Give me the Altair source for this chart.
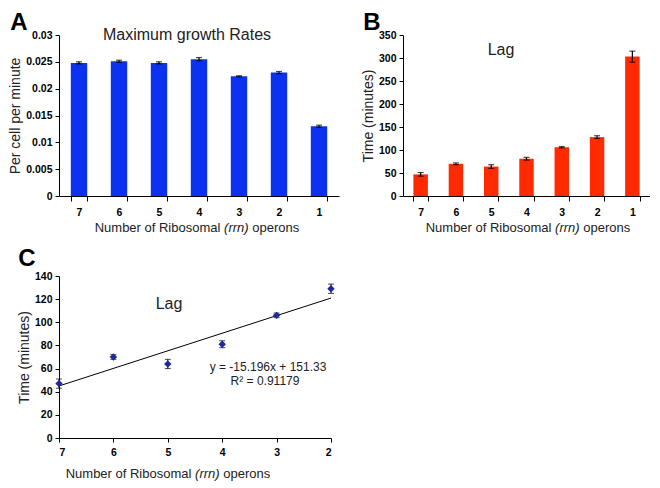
import altair as alt
import pandas as pd

# ---------------- data ----------------
operons = ["7", "6", "5", "4", "3", "2", "1"]
growth_rate = [0.0248, 0.0251, 0.0248, 0.0255, 0.0223, 0.0230, 0.0130]
growth_err = [0.0002, 0.0002, 0.0002, 0.0003, 0.0001, 0.0002, 0.0002]
lag_minutes = [47, 70, 64, 81, 106, 128, 303]
lag_err = [4, 2, 4, 3, 1.5, 3, 12]

c_operons = [7, 6, 5, 4, 3, 2]
c_lag = [47, 70, 64, 81, 106, 129]
c_err = [4, 2, 4, 3, 2, 4]

trend_slope = -15.196
trend_intercept = 151.33
eq_text = "y = -15.196x + 151.33"
r2_text = "R² = 0.91179"

growth_ticks = [0, 0.005, 0.01, 0.015, 0.02, 0.025, 0.03]
lag_ticks = [0, 50, 100, 150, 200, 250, 300, 350]
c_ticks = [0, 20, 40, 60, 80, 100, 120, 140]

FONT = "Liberation Sans"
TXT = "#222222"
BLUE = "#0a32f0"
RED = "#ff2a00"
DARKBLUE = "#1c2a9c"

axis_common = dict(
    grid=False, domainColor="black", tickColor="black", domainWidth=1,
    labelFont=FONT, labelFontWeight="bold", labelFontSize=10.5, labelColor="black",
    titleFont=FONT, titleFontWeight="normal", titleFontSize=14, titleColor=TXT,
    labelOverlap=False,
)


def text_at(s, x, y, size=14, weight="normal", style="normal", align="center"):
    return alt.Chart(pd.DataFrame({"t": [s]})).mark_text(
        align=align, baseline="middle", font=FONT, fontSize=size,
        fontWeight=weight, fontStyle=style, color=TXT,
    ).encode(x=alt.value(x), y=alt.value(y), text="t:N")


def x_title(cx, cy, size=13):
    p = cx + 23.4 * size / 13.0
    gap = 3.6 * size / 13.0
    w2 = 24.7 * size / 13.0
    return [
        text_at("Number of Ribosomal", p, cy, size, align="right"),
        text_at("(rrn)", p + gap + w2 / 2, cy, size, style="italic"),
        text_at("operons", p + 2 * gap + w2, cy, size, align="left"),
    ]


def letter(s, x, y):
    return alt.Chart(pd.DataFrame({"t": [s]})).mark_text(
        align="center", baseline="middle", font=FONT, fontSize=24,
        fontWeight="bold", color="black",
    ).encode(x=alt.value(x), y=alt.value(y), text="t:N")


def bar_panel(values, errs, color, domain, ticks, fmt, ytitle):
    df = pd.DataFrame({
        "op": operons, "v": values,
        "lo": [v - e for v, e in zip(values, errs)],
        "hi": [v + e for v, e in zip(values, errs)],
    })
    xaxis = alt.Axis(title=None, labelAngle=0, tickBand="extent",
                     labelPadding=6, tickSize=5, **axis_common)
    yaxis = alt.Axis(values=ticks, format=fmt, title=ytitle,
                     titlePadding=3, tickSize=4, labelPadding=3, **axis_common)
    xs = alt.Scale(paddingInner=0.59, paddingOuter=0.295)
    ys = alt.Scale(domain=domain, nice=False)
    x = alt.X("op:N", sort=operons, scale=xs, axis=xaxis)

    def Y(f):
        return alt.Y(f, scale=ys, axis=yaxis)

    base = alt.Chart(df)
    bars = base.mark_bar(color=color).encode(x=x, y=Y("v:Q"))
    rule = base.mark_rule(color="black", strokeWidth=1.2).encode(x=x, y=Y("lo:Q"), y2="hi:Q")
    cap1 = base.mark_tick(color="black", size=6, thickness=1.2, orient="horizontal").encode(x=x, y=Y("hi:Q"))
    cap2 = base.mark_tick(color="black", size=6, thickness=1.2, orient="horizontal").encode(x=x, y=Y("lo:Q"))
    return [bars, rule, cap1, cap2]


# ---------------- Panel A ----------------
WA, HA = 280, 161
panelA = alt.layer(
    *bar_panel(growth_rate, growth_err, BLUE, [0, 0.03], growth_ticks, "~g",
               "Per cell per minute"),
    text_at("Maximum growth Rates", 128, 0, 16),
    letter("A", -40, -12),
    *x_title(138, 193),
).properties(width=WA, height=HA)

# ---------------- Panel B ----------------
WB, HB = 247, 161
panelB = alt.layer(
    *bar_panel(lag_minutes, lag_err, RED, [0, 350], lag_ticks, "d",
               "Time (minutes)"),
    text_at("Lag", 98, 15, 16),
    letter("B", -31, -12),
    *x_title(125, 193),
).properties(width=WB, height=HB)

# ---------------- Panel C ----------------
WC, HC = 272, 162
dfC = pd.DataFrame({
    "n": c_operons, "v": c_lag,
    "lo": [v - e for v, e in zip(c_lag, c_err)],
    "hi": [v + e for v, e in zip(c_lag, c_err)],
})
trend_x = [c_operons[0], c_operons[-1]]
dfT = pd.DataFrame({"n": trend_x, "v": [trend_slope * t + trend_intercept for t in trend_x]})

xsC = alt.Scale(domain=[2, 7], reverse=True, nice=False)
ysC = alt.Scale(domain=[0, 140], nice=False)
xaxC = alt.Axis(values=c_operons, format="d", title=None,
                labelPadding=5, tickSize=4, **axis_common)
yaxC = alt.Axis(values=c_ticks, format="d", title="Time (minutes)",
                titlePadding=3, tickSize=4, labelPadding=3, **axis_common)


def XC(f):
    return alt.X(f, scale=xsC, axis=xaxC)


def YC(f):
    return alt.Y(f, scale=ysC, axis=yaxC)


trend = alt.Chart(dfT).mark_line(color="black", strokeWidth=1).encode(x=XC("n:Q"), y=YC("v:Q"))
baseC = alt.Chart(dfC)
ruleC = baseC.mark_rule(color="black", strokeWidth=1).encode(x=XC("n:Q"), y=YC("lo:Q"), y2="hi:Q")
capC1 = baseC.mark_tick(color="black", size=6, thickness=1, orient="horizontal").encode(x=XC("n:Q"), y=YC("hi:Q"))
capC2 = baseC.mark_tick(color="black", size=6, thickness=1, orient="horizontal").encode(x=XC("n:Q"), y=YC("lo:Q"))
pts = baseC.mark_point(shape="diamond", filled=True, size=55, color=DARKBLUE, opacity=1).encode(
    x=XC("n:Q"), y=YC("v:Q"))

panelC = alt.layer(
    trend, ruleC, capC1, capC2, pts,
    text_at("Lag", 110, 28, 16),
    text_at(eq_text, 209, 91, 12),
    text_at(r2_text, 206, 105, 12),
    letter("C", -32, -17),
    *x_title(109, 198),
).properties(width=WC, height=HC)

chart = alt.vconcat(
    alt.hconcat(panelA, panelB, spacing=22),
    panelC,
    spacing=12,
).properties(padding={"left": 0, "top": 3, "right": 0, "bottom": 0}).configure_view(stroke=None)

chart.save("out.html", embed_options={"renderer": "svg", "actions": False})
